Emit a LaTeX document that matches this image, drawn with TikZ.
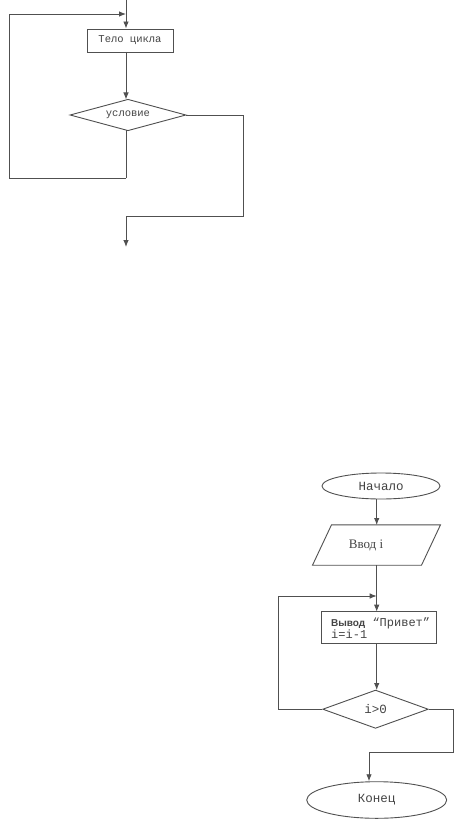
\documentclass[tikz,border=0pt]{standalone}
\usepackage{fontspec}
\setmainfont{Liberation Serif}
\setmonofont{Liberation Mono}
\setsansfont{Liberation Sans}
\usetikzlibrary{shapes.geometric,arrows.meta,calc}
\definecolor{ln}{HTML}{505050}
\definecolor{tx}{HTML}{444444}
\tikzset{
  line/.style={draw=ln,line width=0.9pt},
  arr/.style={line,-{Latex[length=7pt,width=5.5pt]}},
  procbox/.style={draw=ln,line width=0.9pt,rectangle,inner sep=0pt,text=tx},
  cond/.style={draw=ln,line width=0.9pt,diamond,inner sep=0pt,text=tx},
  term/.style={draw=ln,line width=0.9pt,ellipse,inner sep=0pt,text=tx},
  smallmono/.style={font=\ttfamily\fontsize{10.5}{12}\selectfont},
  bigmono/.style={font=\ttfamily\fontsize{12.5}{14}\selectfont},
}
\begin{document}
\begin{tikzpicture}[x=1pt,y=-1pt]
\useasboundingbox[fill=white] (0,0) rectangle (468,832);
% ---------- top diagram ----------
\coordinate (t0) at (126,0);
\node[procbox,smallmono,minimum width=86pt,minimum height=23pt] (body) at (130,40.5) {Тело цикла};
\node[cond,smallmono,minimum width=116pt,minimum height=31.5pt,aspect=3.7] (c1) at (128,115) {\raisebox{-2pt}{условие}};
\coordinate (tin) at (126,14);
\coordinate (tl1) at (9,14);
\coordinate (tl2) at (9,178);
\coordinate (tl3) at (126,178);
\coordinate (tr1) at (243,115);
\coordinate (tr2) at (243,216);
\coordinate (tr3) at (126,216);
\coordinate (tend) at (126,247);
\draw[arr] (t0) -- (t0 |- body.north);
\draw[arr] (tl3) -- (tl2) -- (tl1) -- (tin);
\draw[line] (tl3) -- (126,130.2);
\draw[arr] (126,52) -- (126,99.5);
\draw[line] (c1.east) -- (tr1) -- (tr2) -- (tr3);
\draw[arr] (tr3) -- (tend);
% ---------- bottom diagram ----------
\node[term,bigmono,minimum width=118pt,minimum height=26pt] (start) at (381,486) {Начало};
\node[minimum width=108.6pt,minimum height=40pt,inner sep=0pt] (inp) at (376.5,545) {};
\draw[line] ($(inp.north west)+(9.5,0)$) -- ($(inp.north east)+(9.5,0)$) -- ($(inp.south east)+(-9.5,0)$) -- ($(inp.south west)+(-9.5,0)$) -- cycle;
\node[text=tx,font=\fontsize{13}{15}\selectfont] (inptxt) at (366,545) {Ввод i};
\node[procbox,minimum width=115pt,minimum height=31.6pt] (out) at (379.2,627.5) {};
\node[text=tx,anchor=north west,align=left,inner sep=0pt,font=\ttfamily\fontsize{12}{12}\selectfont] (outtxt) at (331,617.5) {{\sffamily\bfseries\fontsize{10}{12}\selectfont Вывод} “Привет”\\i=i-1};
\node[cond,bigmono,minimum width=105.6pt,minimum height=38.3pt,aspect=2.76] (c2) at (375.5,709.2) {i>0};
\node[term,bigmono,minimum width=140pt,minimum height=36.6pt] (stop) at (376.7,800) {Конец};
\coordinate (bin) at (376.7,596);
\coordinate (bl1) at (278,709.2);
\coordinate (bl2) at (278,596);
\coordinate (br1) at (453.3,709.2);
\coordinate (br2) at (453.3,752.3);
\coordinate (br3) at (369,752.3);
\draw[arr] (376.7,499) -- (376.7,525);
\draw[line] (376.7,565) -- (bin);
\draw[arr] (bin) -- (376.7,611.7);
\draw[arr] (c2.west) -- (bl1) -- (bl2) -- (bin);
\draw[arr] (376.7,643.3) -- (376.7,690);
\draw[line] (c2.east) -- (br1) -- (br2) -- (br3);
\draw[arr] (br3) -- (br3 |- stop.north);
\end{tikzpicture}
\end{document}
